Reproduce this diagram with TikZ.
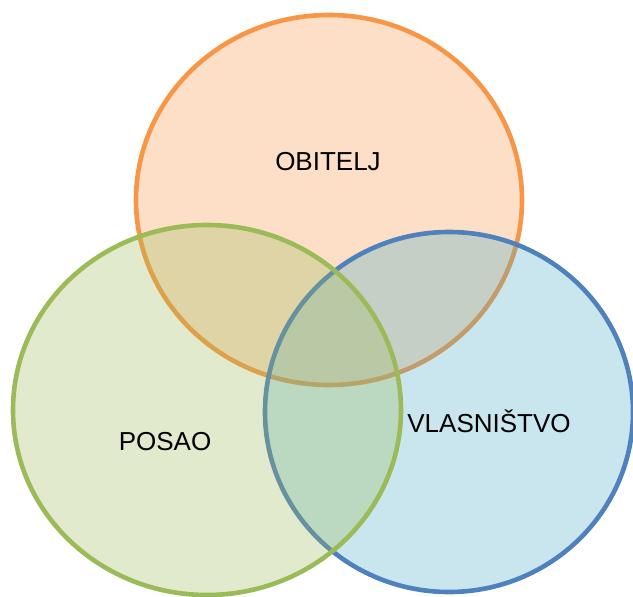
\documentclass[tikz,border=0pt]{standalone}
\usepackage{fontspec}
\setmainfont{Liberation Sans}
\definecolor{orLine}{HTML}{F79646}
\definecolor{orFill}{HTML}{F79646}
\definecolor{grLine}{HTML}{9BBB59}
\definecolor{grFill}{HTML}{9BBB59}
\definecolor{blLine}{HTML}{4F81BD}
\definecolor{blFill}{HTML}{4BACC6}
\begin{document}
\begin{tikzpicture}[x=1pt,y=-1pt,
  setshape/.style={line width=4.6pt, fill opacity=0.3},
  setlabel/.style={anchor=base, font=\fontsize{26}{31}\selectfont, text=black, inner sep=0pt}]
\useasboundingbox (0,0) rectangle (633,597);
\draw[setshape, draw=orLine, fill=orFill] (329,200) ellipse [x radius=193, y radius=185];
\draw[setshape, draw=blLine, fill=blFill] (449,412) ellipse [x radius=184, y radius=180];
\draw[setshape, draw=grLine, fill=grFill] (207,410) ellipse [x radius=194, y radius=185];
\node[setlabel] (obitelj) at (328,170) {OBITELJ};
\node[setlabel] (posao) at (165,450) {POSAO};
\node[setlabel] (vlasnistvo) at (489,432) {VLASNIŠTVO};
\end{tikzpicture}
\end{document}
